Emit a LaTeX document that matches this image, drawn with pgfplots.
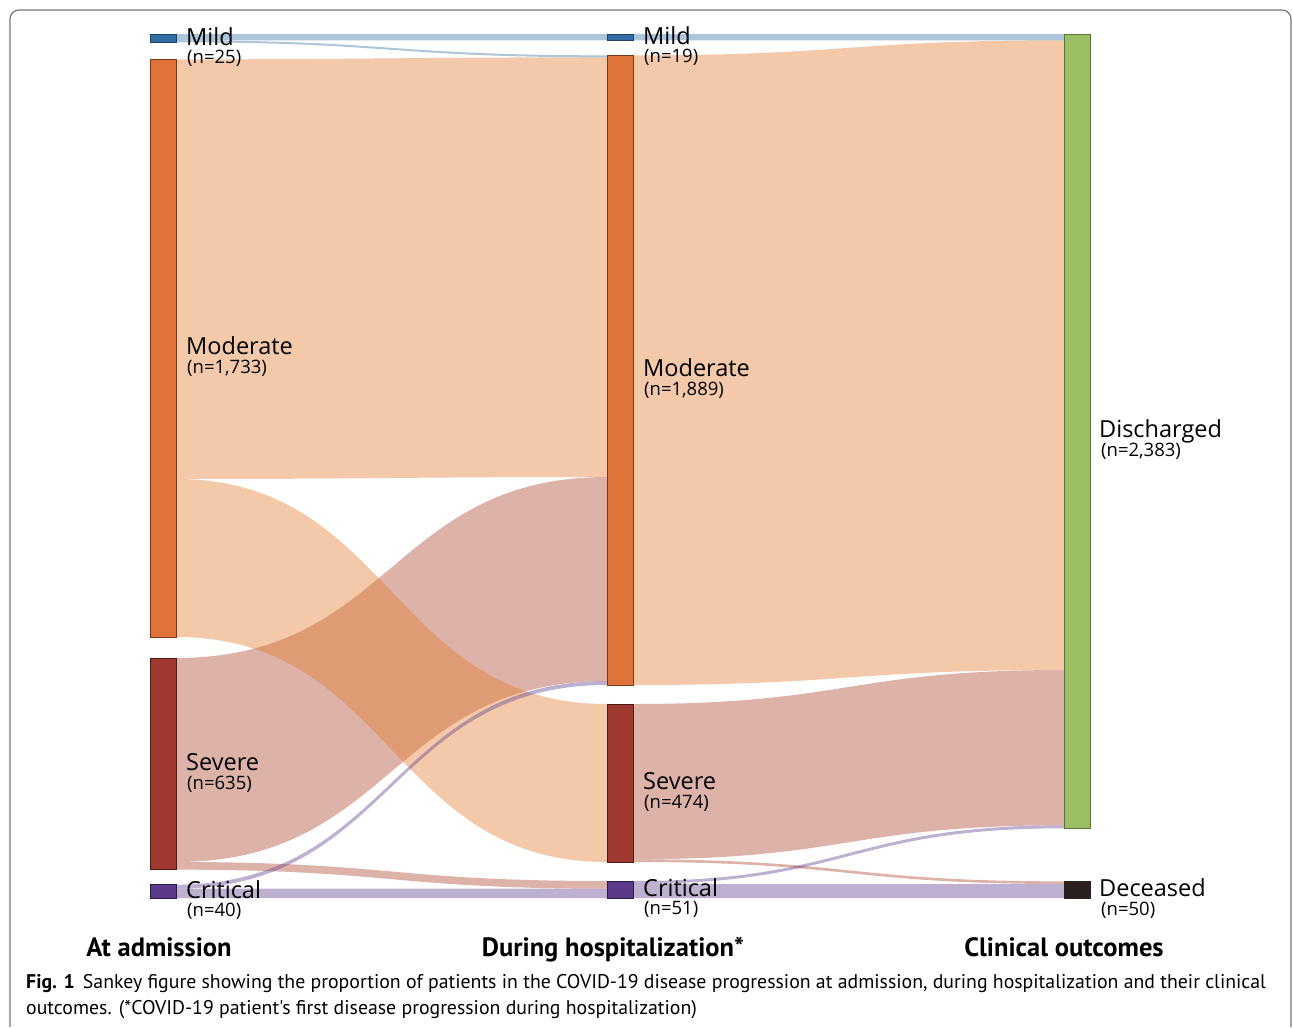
\documentclass[border=0pt]{standalone}
\usepackage{pgfplots}
\pgfplotsset{compat=1.18}
\usepackage{fontspec}
\setmainfont{Open Sans}
\newfontfamily\capfont{PT Sans}
\definecolor{cMild}{HTML}{2F6DA3}
\definecolor{cMildB}{HTML}{1D4468}
\definecolor{cMod}{HTML}{E0733A}
\definecolor{cModF}{HTML}{E17828}
\definecolor{cModB}{HTML}{7A3A18}
\definecolor{cSev}{HTML}{A0392F}
\definecolor{cSevF}{HTML}{AA3E25}
\definecolor{cSevB}{HTML}{4E1A15}
\definecolor{cCrit}{HTML}{5B3A8A}
\definecolor{cCritB}{HTML}{2B1A45}
\definecolor{cDis}{HTML}{9BBE63}
\definecolor{cDisB}{HTML}{5C7535}
\definecolor{cDec}{HTML}{2A201E}
\definecolor{cFrame}{HTML}{777777}
% flows: source top, source bottom, target top, target bottom, colour
\newcommand{\flowA}[5]{\fill[#5,opacity=0.4] (axis cs:176,#1) .. controls (axis cs:391.5,#1) and (axis cs:391.5,#3) .. (axis cs:607,#3) -- (axis cs:607,#4) .. controls (axis cs:391.5,#4) and (axis cs:391.5,#2) .. (axis cs:176,#2) -- cycle;}
\newcommand{\flowB}[5]{\fill[#5,opacity=0.4] (axis cs:633,#1) .. controls (axis cs:848.5,#1) and (axis cs:848.5,#3) .. (axis cs:1064,#3) -- (axis cs:1064,#4) .. controls (axis cs:848.5,#4) and (axis cs:848.5,#2) .. (axis cs:633,#2) -- cycle;}
\newcommand{\nname}[1]{\fontsize{23.5bp}{26bp}\selectfont #1}
\newcommand{\ncount}[1]{\fontsize{18.5bp}{20bp}\selectfont #1}
\begin{document}
\begin{tikzpicture}
\begin{axis}[scale only axis, width=1293bp, height=1027bp,
  xmin=0, xmax=1293, ymin=-102, ymax=2979, y dir=reverse,
  hide axis, clip=false]
\path (axis cs:0,-102) rectangle (axis cs:1293,2979);
% frame
\draw[cFrame, line width=1.2bp, rounded corners=9bp] (axis cs:10,2979) -- (axis cs:10,-72) -- (axis cs:1291,-72) -- (axis cs:1291,2979);
% ---- flows: admission -> hospitalization (red below orange)
\flowA{1872}{2484}{1329}{1941}{cSevF}
\flowA{2484}{2507}{2541}{2564}{cSevF}
\flowA{76}{1335}{70}{1329}{cModF}
\flowA{1335}{1809}{2010}{2484}{cModF}
\flowA{0}{19}{0}{19}{cMild}
\flowA{19}{25}{64}{70}{cMild}
\flowA{2552}{2564}{1941}{1953}{cCrit}
\flowA{2564}{2592}{2564}{2592}{cCrit}
% ---- flows: hospitalization -> outcome
\flowB{2010}{2476}{1908}{2374}{cSevF}
\flowB{2476}{2484}{2542}{2550}{cSevF}
\flowB{64}{1953}{19}{1908}{cModF}
\flowB{0}{19}{0}{19}{cMild}
\flowB{2541}{2550}{2374}{2383}{cCrit}
\flowB{2550}{2592}{2550}{2592}{cCrit}
% ---- nodes
\addplot[draw=cMildB, fill=cMild, line width=1bp] coordinates {(150,0) (176,0) (176,25) (150,25)} -- cycle;
\addplot[draw=cModB, fill=cMod, line width=1bp] coordinates {(150,76) (176,76) (176,1809) (150,1809)} -- cycle;
\addplot[draw=cSevB, fill=cSev, line width=1bp] coordinates {(150,1872) (176,1872) (176,2507) (150,2507)} -- cycle;
\addplot[draw=cCritB, fill=cCrit, line width=1bp] coordinates {(150,2552) (176,2552) (176,2592) (150,2592)} -- cycle;
\addplot[draw=cMildB, fill=cMild, line width=1bp] coordinates {(607,0) (633,0) (633,19) (607,19)} -- cycle;
\addplot[draw=cModB, fill=cMod, line width=1bp] coordinates {(607,64) (633,64) (633,1953) (607,1953)} -- cycle;
\addplot[draw=cSevB, fill=cSev, line width=1bp] coordinates {(607,2010) (633,2010) (633,2484) (607,2484)} -- cycle;
\addplot[draw=cCritB, fill=cCrit, line width=1bp] coordinates {(607,2541) (633,2541) (633,2592) (607,2592)} -- cycle;
\addplot[draw=cDisB, fill=cDis, line width=1bp] coordinates {(1064,0) (1090,0) (1090,2383) (1064,2383)} -- cycle;
\addplot[draw=cDec, fill=cDec, line width=1bp] coordinates {(1064,2542) (1090,2542) (1090,2592) (1064,2592)} -- cycle;
% ---- labels
\node[anchor=base west, inner sep=0pt] at (axis cs:186,35) {\nname{Mild}};
\node[anchor=base west, inner sep=0pt] at (axis cs:187,89) {\ncount{(n=25)}};
\node[anchor=base west, inner sep=0pt] at (axis cs:186,962) {\nname{Moderate}};
\node[anchor=base west, inner sep=0pt] at (axis cs:187,1018) {\ncount{(n=1,733)}};
\node[anchor=base west, inner sep=0pt] at (axis cs:186,2210) {\nname{Severe}};
\node[anchor=base west, inner sep=0pt] at (axis cs:187,2266) {\ncount{(n=635)}};
\node[anchor=base west, inner sep=0pt] at (axis cs:186,2592) {\nname{Critical}};
\node[anchor=base west, inner sep=0pt] at (axis cs:187,2648) {\ncount{(n=40)}};
\node[anchor=base west, inner sep=0pt] at (axis cs:643,32) {\nname{Mild}};
\node[anchor=base west, inner sep=0pt] at (axis cs:644,86) {\ncount{(n=19)}};
\node[anchor=base west, inner sep=0pt] at (axis cs:643,1028) {\nname{Moderate}};
\node[anchor=base west, inner sep=0pt] at (axis cs:644,1084) {\ncount{(n=1,889)}};
\node[anchor=base west, inner sep=0pt] at (axis cs:643,2267) {\nname{Severe}};
\node[anchor=base west, inner sep=0pt] at (axis cs:644,2323) {\ncount{(n=474)}};
\node[anchor=base west, inner sep=0pt] at (axis cs:643,2586) {\nname{Critical}};
\node[anchor=base west, inner sep=0pt] at (axis cs:644,2642) {\ncount{(n=51)}};
\node[anchor=base west, inner sep=0pt] at (axis cs:1099,1211) {\nname{Discharged}};
\node[anchor=base west, inner sep=0pt] at (axis cs:1101,1267) {\ncount{(n=2,383)}};
\node[anchor=base west, inner sep=0pt] at (axis cs:1099,2588) {\nname{Deceased}};
\node[anchor=base west, inner sep=0pt] at (axis cs:1101,2644) {\ncount{(n=50)}};
% ---- column titles
\node[anchor=base, inner sep=0pt, font=\capfont\bfseries\fontsize{26.5bp}{28bp}\selectfont] at (axis cs:159,2766) {At admission};
\node[anchor=base, inner sep=0pt, font=\capfont\bfseries\fontsize{26.5bp}{28bp}\selectfont] at (axis cs:613,2766) {During hospitalization*};
\node[anchor=base, inner sep=0pt, font=\capfont\bfseries\fontsize{26.5bp}{28bp}\selectfont] at (axis cs:1064,2766) {Clinical outcomes};
% ---- caption
\node[anchor=base west, inner sep=0pt, font=\capfont\fontsize{19.8bp}{26bp}\selectfont] at (axis cs:26,2862) {\textbf{Fig. 1}\hspace{8bp}Sankey figure showing the proportion of patients in the COVID-19 disease progression at admission, during hospitalization and their clinical};
\node[anchor=base west, inner sep=0pt, font=\capfont\fontsize{19.8bp}{26bp}\selectfont] at (axis cs:26,2940) {outcomes. (*COVID-19 patient's first disease progression during hospitalization)};
\end{axis}
\end{tikzpicture}
\end{document}
